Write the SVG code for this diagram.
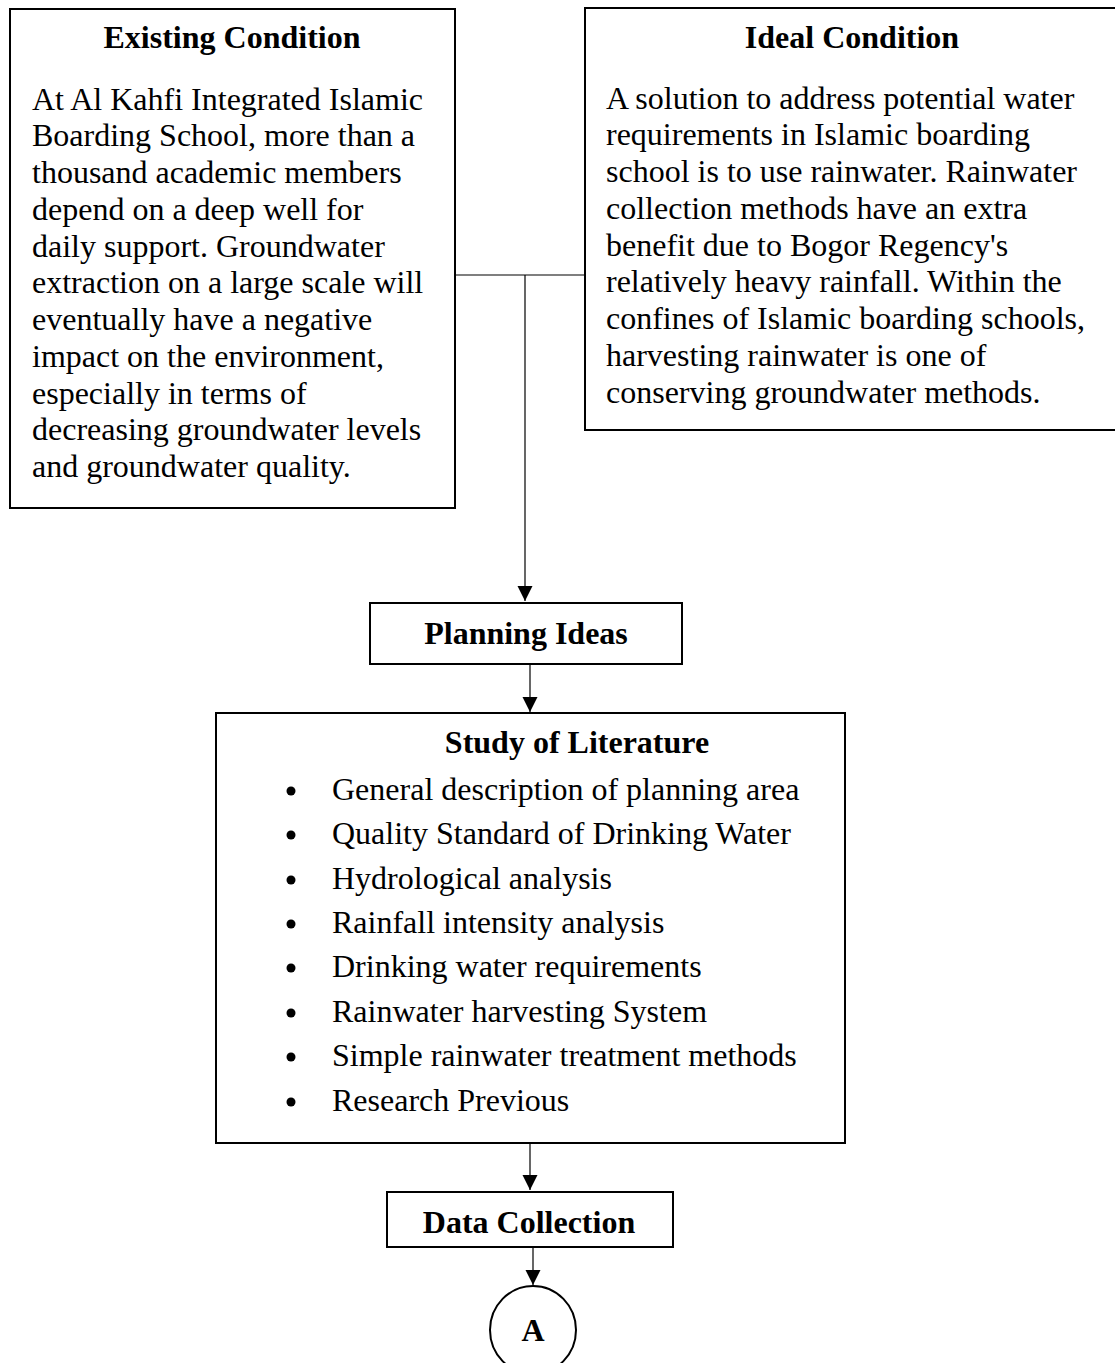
<svg xmlns="http://www.w3.org/2000/svg" width="1115" height="1363" viewBox="0 0 1115 1363">
<style>
.box{fill:#fff;stroke:#000;stroke-width:2}
.t{font-family:"Liberation Serif","Times New Roman",serif;font-size:32px;fill:#000}
.b{font-weight:bold;text-anchor:middle}
.con{fill:none;stroke:#000;stroke-width:1.2}
.arr{fill:none;stroke:#000;stroke-width:1.2;marker-end:url(#ah)}
</style>
<defs>
<marker id="ah" markerUnits="userSpaceOnUse" markerWidth="16" markerHeight="16" refX="15" refY="7.5" orient="auto">
<path d="M0,0 L15,7.5 L0,15 Z" fill="#000"/>
</marker>
</defs>
<g id="existing">
<rect class="box" x="10" y="9" width="445" height="499"/>
<text class="t b" x="232" y="48">Existing Condition</text>
<text class="t" x="32" y="109.5">At Al Kahfi Integrated Islamic</text>
<text class="t" x="32" y="146.3">Boarding School, more than a</text>
<text class="t" x="32" y="183">thousand academic members</text>
<text class="t" x="32" y="219.8">depend on a deep well for</text>
<text class="t" x="32" y="256.5">daily support. Groundwater</text>
<text class="t" x="32" y="293.3">extraction on a large scale will</text>
<text class="t" x="32" y="330">eventually have a negative</text>
<text class="t" x="32" y="366.8">impact on the environment,</text>
<text class="t" x="32" y="403.5">especially in terms of</text>
<text class="t" x="32" y="440.3">decreasing groundwater levels</text>
<text class="t" x="32" y="477">and groundwater quality.</text>
</g>
<g id="ideal">
<rect class="box" x="585" y="8" width="535" height="422"/>
<text class="t b" x="852" y="48">Ideal Condition</text>
<text class="t" x="606" y="108.5">A solution to address potential water</text>
<text class="t" x="606" y="145.3">requirements in Islamic boarding</text>
<text class="t" x="606" y="182">school is to use rainwater. Rainwater</text>
<text class="t" x="606" y="218.8">collection methods have an extra</text>
<text class="t" x="606" y="255.5">benefit due to Bogor Regency's</text>
<text class="t" x="606" y="292.3">relatively heavy rainfall. Within the</text>
<text class="t" x="606" y="329">confines of Islamic boarding schools,</text>
<text class="t" x="606" y="365.8">harvesting rainwater is one of</text>
<text class="t" x="606" y="402.5">conserving groundwater methods.</text>
</g>
<g id="planning">
<rect class="box" x="370" y="603" width="312" height="61"/>
<text class="t b" x="526" y="644">Planning Ideas</text>
</g>
<g id="study">
<rect class="box" x="216" y="713" width="629" height="430"/>
<text class="t b" x="577" y="753">Study of Literature</text>
<g fill="#000">
<circle cx="291" cy="791" r="4.5"/>
<circle cx="291" cy="835" r="4.5"/>
<circle cx="291" cy="880" r="4.5"/>
<circle cx="291" cy="924" r="4.5"/>
<circle cx="291" cy="968" r="4.5"/>
<circle cx="291" cy="1013" r="4.5"/>
<circle cx="291" cy="1057" r="4.5"/>
<circle cx="291" cy="1102" r="4.5"/>
</g>
<text class="t" x="332" y="800">General description of planning area</text>
<text class="t" x="332" y="844">Quality Standard of Drinking Water</text>
<text class="t" x="332" y="889">Hydrological analysis</text>
<text class="t" x="332" y="933">Rainfall intensity analysis</text>
<text class="t" x="332" y="977">Drinking water requirements</text>
<text class="t" x="332" y="1022">Rainwater harvesting System</text>
<text class="t" x="332" y="1066">Simple rainwater treatment methods</text>
<text class="t" x="332" y="1111">Research Previous</text>
</g>
<g id="data">
<rect class="box" x="387" y="1192" width="286" height="55"/>
<text class="t b" x="529" y="1233">Data Collection</text>
</g>
<g id="connectorA">
<ellipse cx="533" cy="1330" rx="43" ry="44" fill="#fff" stroke="#000" stroke-width="2"/>
<text class="t b" x="533" y="1341">A</text>
</g>
<g id="connectors">
<path class="con" d="M455,275 H585"/>
<path class="arr" d="M525,275 V601"/>
<path class="arr" d="M530,664 V712"/>
<path class="arr" d="M530,1143 V1190"/>
<path class="arr" d="M533,1247 V1285"/>
</g>
</svg>
